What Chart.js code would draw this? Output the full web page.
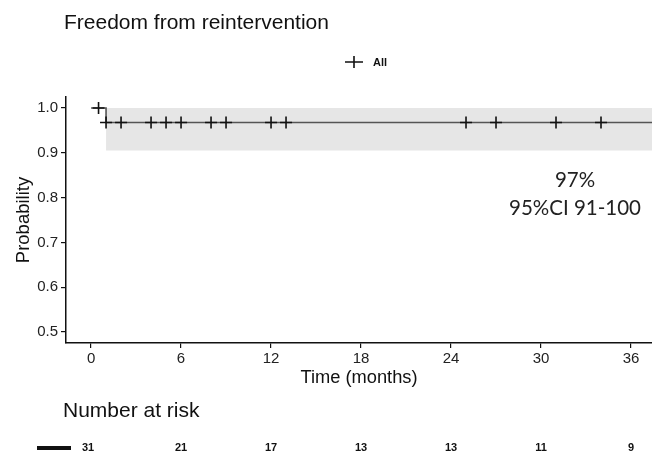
<!DOCTYPE html>
<html>
<head>
<meta charset="utf-8">
<script src="https://cdn.jsdelivr.net/npm/chart.js@4"></script>
<style>
html,body{margin:0;padding:0;background:#fff;}
#wrap{width:652px;height:455px;position:relative;}
</style>
</head>
<body>
<div id="wrap"><canvas id="c" width="652" height="455"></canvas></div>
<script>
// ---- data ----
const stepTimes = [0, 1, 37.4];
const stepSurv = [1.0, 0.9677, 0.9677];
const ciTimes = [1, 37.4];
const ciUpper = [1.0, 1.0];
const ciLower = [0.905, 0.905];
const censorTimes = [0.5, 1, 2, 4, 5, 6, 8, 9, 12, 13, 25, 27, 31, 34];
const censorSurv = [1.0, 0.9677, 0.9677, 0.9677, 0.9677, 0.9677, 0.9677, 0.9677, 0.9677, 0.9677, 0.9677, 0.9677, 0.9677, 0.9677];
const xTicks = [0, 6, 12, 18, 24, 30, 36];
const yTicks = [0.5, 0.6, 0.7, 0.8, 0.9, 1.0];
const riskTimes = [0, 6, 12, 18, 24, 30, 36];
const riskCounts = [31, 21, 17, 13, 13, 11, 9];
const estimateText = ["97%", "95%CI 91-100"];

const FONT = "'Liberation Sans', Arial, sans-serif";

const textPlugin = {
  id: 'texts',
  afterDraw(chart) {
    const ctx = chart.ctx;
    const xs = chart.scales.x;
    ctx.save();
    // title
    ctx.fillStyle = '#111';
    ctx.font = '21px ' + FONT;
    ctx.textAlign = 'left';
    ctx.textBaseline = 'middle';
    ctx.fillText('Freedom from reintervention', 64, 23);
    // legend
    const lx = 354, ly = 62;
    ctx.strokeStyle = '#111';
    ctx.lineWidth = 1.6;
    ctx.beginPath();
    ctx.moveTo(lx - 9, ly); ctx.lineTo(lx + 9, ly);
    ctx.moveTo(lx, ly - 6); ctx.lineTo(lx, ly + 6);
    ctx.stroke();
    ctx.font = 'bold 11px ' + FONT;
    ctx.fillText('All', 373, 63);
    // annotation
    ctx.font = "20.5px Lato, 'Open Sans', sans-serif";
    ctx.textAlign = 'center';
    ctx.fillStyle = '#222';
    ctx.fillText(estimateText[0], 575, 180);
    ctx.fillText(estimateText[1], 575, 208);
    // number at risk
    ctx.textAlign = 'left';
    ctx.fillStyle = '#111';
    ctx.font = '21px ' + FONT;
    ctx.fillText('Number at risk', 63, 411);
    ctx.fillRect(37, 446, 34, 4);
    ctx.font = 'bold 11px ' + FONT;
    ctx.textAlign = 'center';
    riskTimes.forEach((t, i) => {
      const px = xs.getPixelForValue(t);
      ctx.fillText(String(riskCounts[i]), i === 0 ? px - 3 : px, 448);
    });
    ctx.restore();
  }
};

new Chart(document.getElementById('c'), {
  type: 'scatter',
  data: {
    datasets: [
      {
        label: 'ciUpper', order: 4,
        data: ciTimes.map((t, i) => ({x: t, y: ciUpper[i]})),
        showLine: true, borderWidth: 0, pointRadius: 0,
        borderColor: 'rgba(0,0,0,0)', fill: false
      },
      {
        label: 'ciLower', order: 3,
        data: ciTimes.map((t, i) => ({x: t, y: ciLower[i]})),
        showLine: true, borderWidth: 0, pointRadius: 0,
        borderColor: 'rgba(0,0,0,0)',
        backgroundColor: '#e6e6e6', fill: '-1'
      },
      {
        label: 'All', order: 2,
        data: stepTimes.map((t, i) => ({x: t, y: stepSurv[i]})),
        showLine: true, stepped: 'before', borderColor: '#555', borderWidth: 1.6,
        pointRadius: 0, fill: false
      },
      {
        label: 'censor', order: 1,
        data: censorTimes.map((t, i) => ({x: t, y: censorSurv[i]})),
        showLine: false, pointStyle: 'cross', pointRadius: 6,
        borderColor: '#111', pointBorderWidth: 1.6, backgroundColor: '#111'
      }
    ]
  },
  plugins: [textPlugin],
  options: {
    responsive: false,
    animation: false,
    layout: {autoPadding: false, padding: {top: 97, left: 0, right: 0, bottom: 66}},
    plugins: {legend: {display: false}, tooltip: {enabled: false}, title: {display: false}},
    scales: {
      x: {
        type: 'linear', min: -1.67, max: 37.4,
        afterBuildTicks: (s) => { s.ticks = xTicks.map(v => ({value: v})); },
        afterFit: (s) => { s.height = 46; s.paddingLeft = 0; s.paddingRight = 0; },
        border: {display: true, color: '#111', width: 1.5},
        grid: {display: true, drawOnChartArea: false, drawTicks: true, tickLength: 5, color: '#111', lineWidth: 1.2},
        ticks: {color: '#222', font: {family: FONT, size: 15}, padding: 2, maxRotation: 0, autoSkip: false},
        title: {display: true, text: 'Time (months)', color: '#111', font: {family: FONT, size: 18.3}, padding: {top: 0, bottom: 0}}
      },
      y: {
        type: 'linear', min: 0.4755, max: 1.0245,
        afterBuildTicks: (s) => { s.ticks = yTicks.map(v => ({value: v})); },
        afterFit: (s) => { s.width = 66; s.paddingTop = 0; s.paddingBottom = 0; },
        border: {display: true, color: '#111', width: 1.5},
        grid: {display: true, drawOnChartArea: false, drawTicks: true, tickLength: 5, color: '#111', lineWidth: 1.2},
        ticks: {color: '#222', font: {family: FONT, size: 15}, padding: 3, callback: (v) => Number(v).toFixed(1)},
        title: {display: true, text: 'Probability', color: '#111', font: {family: FONT, size: 18.5}, padding: {top: 13, bottom: 2}}
      }
    }
  }
});
</script>
</body>
</html>
